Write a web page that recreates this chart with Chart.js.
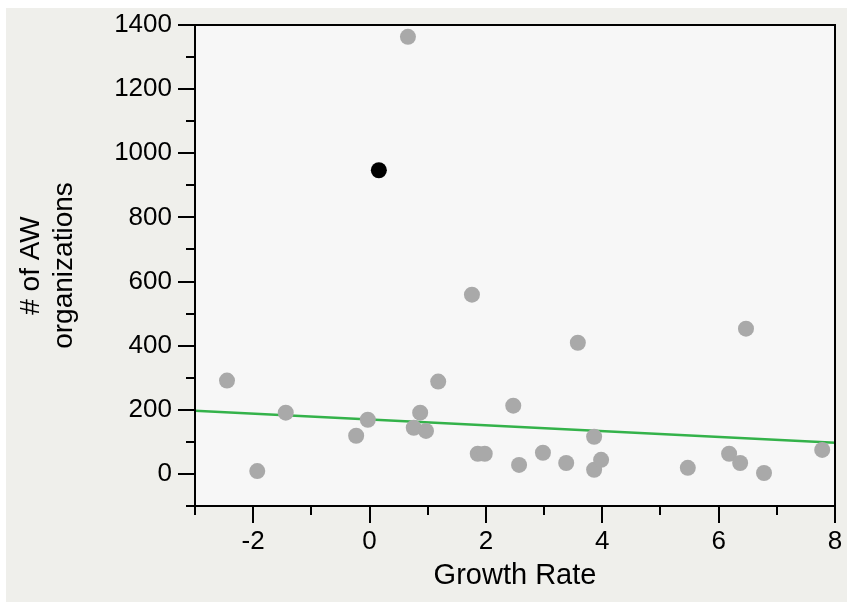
<!DOCTYPE html>
<html><head><meta charset="utf-8">
<script src="https://cdn.jsdelivr.net/npm/chart.js@4/dist/chart.umd.min.js"></script>
<style>html,body{margin:0;padding:0;background:#fff;overflow:hidden}
#wrap{position:absolute;left:0;top:0;width:847px;height:602px}
</style></head><body><div id="wrap"><canvas id="c" width="847" height="602"></canvas></div>
<script>
// Data
const growthRate = [-2.45, -1.93, -1.44, -0.23, -0.03, 0.76, 0.87, 0.97, 1.18, 0.66, 1.76, 1.86, 1.98, 2.47, 2.57, 2.98, 3.38, 3.58, 3.86, 3.86, 3.98, 5.47, 6.18, 6.37, 6.47, 6.78, 7.78];
const awOrgs     = [291, 9, 191, 119, 169, 144, 191, 134, 288, 1363, 559, 63, 63, 213, 28, 66, 34, 409, 116, 13, 44, 19, 63, 34, 453, 3, 75];
const highlightX = [0.16];
const highlightY = [947];
const fitX = [-3, 8];
const fitY = [197, 97];
const xTicks = [-2, 0, 2, 4, 6, 8];
const xMinor = [-3, -1, 1, 3, 5, 7];
const yTicks = [0, 200, 400, 600, 800, 1000, 1200, 1400];
const yMinor = [-100, 100, 300, 500, 700, 900, 1100, 1300];
const xTitle = 'Growth Rate';
const yTitle = ['# of AW', 'organizations'];

const zip = (xs, ys) => xs.map((x, i) => ({x: x, y: ys[i]}));

const bgPlugin = {
  id: 'bg',
  beforeDraw(chart) {
    const ctx = chart.ctx, a = chart.chartArea;
    ctx.save();
    ctx.fillStyle = '#ffffff';
    ctx.fillRect(0, 0, chart.width, chart.height);
    ctx.fillStyle = '#efefeb';
    ctx.fillRect(6, 8, chart.width - 6, chart.height - 8);
    ctx.fillStyle = '#f7f7f7';
    ctx.fillRect(a.left, a.top, a.right - a.left, a.bottom - a.top);
    ctx.restore();
  },
  afterDraw(chart) {
    const ctx = chart.ctx, a = chart.chartArea;
    const xs = chart.scales.x, ys = chart.scales.y;
    ctx.save();
    ctx.strokeStyle = '#000';
    ctx.lineWidth = 2;
    ctx.strokeRect(a.left, a.top, a.right - a.left, a.bottom - a.top);
    ctx.fillStyle = '#000';
    yMinor.forEach(v => {
      const p = Math.round(ys.getPixelForValue(v));
      ctx.fillRect(a.left - 9, p - 1, 9, 2);
    });
    xMinor.forEach(v => {
      const p = Math.round(xs.getPixelForValue(v));
      ctx.fillRect(p - 1, a.bottom, 2, 9);
    });
    yTicks.forEach(v => {
      const p = Math.round(ys.getPixelForValue(v));
      ctx.fillRect(a.left - 17, p - 1, 17, 2);
    });
    xTicks.forEach(v => {
      const p = Math.round(xs.getPixelForValue(v));
      ctx.fillRect(p - 1, a.bottom, 2, 17);
    });
    ctx.restore();
  }
};

new Chart(document.getElementById('c'), {
  type: 'scatter',
  data: {
    datasets: [
      {data: zip(growthRate, awOrgs), backgroundColor: '#a9a9a9', borderWidth: 0, pointRadius: 8, order: 1},
      {data: zip(highlightX, highlightY), backgroundColor: '#000', borderWidth: 0, pointRadius: 8, order: 0},
      {data: zip(fitX, fitY), showLine: true, borderColor: 'rgb(52,178,74)', borderWidth: 2.5, pointRadius: 0, order: 2}
    ]
  },
  plugins: [bgPlugin],
  options: {
    responsive: false,
    animation: false,
    events: [],
    layout: {padding: {left: 0, top: 25, right: 12, bottom: 0}},
    plugins: {legend: {display: false}, tooltip: {enabled: false}},
    scales: {
      x: {
        type: 'linear', min: -3, max: 8,
        afterBuildTicks: s => { s.ticks = xTicks.map(v => ({value: v})); },
        afterFit: s => { s.height = 96; },
        border: {display: false},
        grid: {drawOnChartArea: false, drawTicks: true, tickLength: 17, tickColor: 'rgba(0,0,0,0)'},
        ticks: {color: '#000', padding: 3, font: {family: 'Liberation Sans', size: 26}, maxRotation: 0,
                callback: v => String(v)},
        title: {display: true, text: xTitle, color: '#000', font: {family: 'Liberation Sans', size: 29}, padding: {top: 0, bottom: 9}}
      },
      y: {
        type: 'linear', min: -100, max: 1400,
        afterBuildTicks: s => { s.ticks = yTicks.map(v => ({value: v})); },
        afterFit: s => { s.width = 195; },
        border: {display: false},
        grid: {drawOnChartArea: false, drawTicks: true, tickLength: 17, tickColor: 'rgba(0,0,0,0)'},
        ticks: {color: '#000', padding: 6, font: {family: 'Liberation Sans', size: 26},
                callback: v => String(v)},
        title: {display: true, text: yTitle, color: '#000', font: {family: 'Liberation Sans', size: 28}, padding: {top: 14, bottom: 0}}
      }
    }
  }
});
</script></body></html>
